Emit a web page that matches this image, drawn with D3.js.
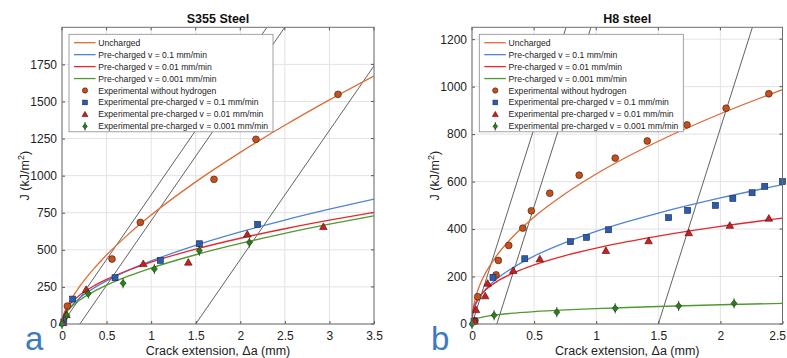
<!DOCTYPE html>
<html><head><meta charset="utf-8">
<script src="https://cdn.jsdelivr.net/npm/d3@7"></script>
<style>body{margin:0;background:#fff}svg{display:block}text{font-family:"Liberation Sans",Arial,sans-serif}</style>
</head><body><svg id="c" width="787" height="358"></svg>
<script>
// ---------- Panel a : S355 Steel ----------
const aTitle = "S355 Steel";
const aTicksX = [0, 0.5, 1, 1.5, 2, 2.5, 3, 3.5];
const aTicksY = [0, 250, 500, 750, 1000, 1250, 1500, 1750];
const aDomainX = [0, 3.5];
const aDomainY = [0, 2000];
const aCurveX   = [0, 0.005, 0.02, 0.05, 0.1, 0.2, 0.35, 0.5, 0.75, 1, 1.5, 2, 2.5, 3, 3.5];
const aFitUnch  = [0, 22.6, 56, 102.6, 161.7, 255, 368, 465.5, 607.6, 734, 958, 1157, 1340, 1511, 1672];
const aFit01    = [0, 23.6, 50.2, 82.8, 120.9, 176.5, 239.6, 291, 363, 425, 530, 620.5, 701, 774, 842];
const aFit001   = [0, 34.4, 66, 101.7, 141, 195.4, 254.3, 300.8, 364, 417, 504.7, 578, 642, 699.6, 752];
const aFit0001  = [0, 23.1, 48, 77.7, 112, 161.4, 216.8, 261.6, 324, 377, 466.8, 543, 611, 672.6, 729.6];
const aExpUnchX = [0.06, 0.561, 0.879, 1.705, 2.176, 3.096];
const aExpUnchY = [121, 438, 685, 975, 1245, 1548];
const aExp01X   = [0.02, 0.12, 0.595, 1.103, 1.541, 2.195];
const aExp01Y   = [15, 168, 312, 429, 541, 672];
const aExp001X  = [0.01, 0.05, 0.27, 0.912, 1.417, 2.079, 2.932];
const aExp001Y  = [8, 62, 232, 406, 416, 605, 656];
const aExp0001X = [0, 0.053, 0.295, 0.685, 1.036, 1.541, 2.102];
const aExp0001Y = [0, 59, 205, 275, 371, 494, 550];
const aBluntOffsets = [0, 0.2, 1.5];
const aBluntSlope = 870;

// ---------- Panel b : H8 steel ----------
const bTitle = "H8 steel";
const bTicksX = [0, 0.5, 1, 1.5, 2, 2.5];
const bTicksY = [0, 200, 400, 600, 800, 1000, 1200];
const bDomainX = [0, 2.5];
const bDomainY = [0, 1250];
const bCurveX   = [0, 0.005, 0.01, 0.03, 0.06, 0.1, 0.2, 0.35, 0.5, 0.75, 1, 1.25, 1.5, 2, 2.5];
const bFitUnch  = [0, 48, 67, 114.6, 160.6, 206, 288.6, 379, 451, 549, 632, 704.5, 770, 885.7, 987.4];
const bFit01    = [0, 37, 50, 81.6, 111.2, 139.7, 190.2, 244, 286.3, 343, 390, 430.8, 467.3, 531, 587];
const bFit001   = [0, 47, 60.4, 90, 115.6, 139, 178.7, 218.9, 249, 288.4, 320, 347, 370.6, 411.3, 445.9];
const bFit0001  = [0, 12, 14.7, 21, 26.2, 30.9, 38.6, 46.2, 51.9, 59.1, 64.8, 69.6, 73.8, 81, 87];
const bExpUnchX = [0.024, 0.046, 0.194, 0.212, 0.296, 0.409, 0.478, 0.626, 0.863, 1.153, 1.411, 1.731, 2.046, 2.39];
const bExpUnchY = [14, 115, 207, 268, 331, 404, 477, 551, 627, 699, 771, 839, 909, 970];
const bExp01X   = [0.016, 0.169, 0.425, 0.793, 0.922, 1.099, 1.583, 1.736, 1.96, 2.1, 2.255, 2.357, 2.5];
const bExp01Y   = [12, 196, 275, 347, 365, 397, 448, 479, 500, 529, 553, 580, 600];
const bExp001X  = [0.02, 0.032, 0.106, 0.126, 0.332, 0.546, 1.078, 1.422, 1.745, 2.076, 2.39];
const bExp001Y  = [12, 60, 118, 171, 225, 274, 309, 350, 384, 415, 445];
const bExp0001X = [0, 0.178, 0.683, 1.153, 1.664, 2.11];
const bExp0001Y = [0, 37, 50, 66, 76, 87];
const bBluntOffsets = [0, 0.2, 1.5];
const bBluntSlope = 1650;

const legendLabels = ["Uncharged", "Pre-charged v = 0.1 mm/min", "Pre-charged v = 0.01 mm/min",
  "Pre-charged v = 0.001 mm/min", "Experimental without hydrogen",
  "Experimental pre-charged v = 0.1 mm/min", "Experimental pre-charged v = 0.01 mm/min",
  "Experimental pre-charged v = 0.001 mm/min"];
const xLabel = "Crack extension, \u0394a (mm)";

const lineColors = ["#de6b36", "#4f84d6", "#e4282c", "#4f9a30"];
const markFill   = ["#c5501d", "#2d5cae", "#cc1e1e", "#2f7c1f"];
const markStroke = ["#3b1a0c", "#15284f", "#4a0c0c", "#113808"];
const markTypes  = ["circle", "square", "triangle", "diamond"];

const svg = d3.select("#c");
const W = 787;

function marker(g, type, cx, cy, i, s) {
  s = s || 1;
  if (type === "circle") {
    g.append("circle").attr("cx", cx).attr("cy", cy).attr("r", 3.4 * s)
      .attr("fill", markFill[i]).attr("stroke", markStroke[i]).attr("stroke-width", 0.6);
  } else if (type === "square") {
    const h = 3 * s;
    g.append("rect").attr("x", cx - h).attr("y", cy - h).attr("width", 2 * h).attr("height", 2 * h)
      .attr("fill", markFill[i]).attr("stroke", markStroke[i]).attr("stroke-width", 0.6);
  } else if (type === "triangle") {
    const h = 3.8 * s;
    g.append("path").attr("d", `M${cx},${cy - h}L${cx + h},${cy + h * 0.75}L${cx - h},${cy + h * 0.75}Z`)
      .attr("fill", markFill[i]).attr("stroke", markStroke[i]).attr("stroke-width", 0.6);
  } else {
    const w = 3 * s, h = 3.6 * s;
    g.append("line").attr("x1", cx).attr("x2", cx).attr("y1", cy - h - 1.5).attr("y2", cy + h + 1.5)
      .attr("stroke", markStroke[i]).attr("stroke-width", 0.8);
    g.append("path").attr("d", `M${cx},${cy - h}L${cx + w},${cy}L${cx},${cy + h}L${cx - w},${cy}Z`)
      .attr("fill", markFill[i]).attr("stroke", markStroke[i]).attr("stroke-width", 0.6);
  }
}

function panel(p) {
  const g = svg.append("g");
  const x = d3.scaleLinear().domain(p.domX).range([p.x0, p.x1]);
  const y = d3.scaleLinear().domain(p.domY).range([p.yb, p.yt]);
  const id = "clip" + p.key;
  svg.append("clipPath").attr("id", id).append("rect")
    .attr("x", p.x0).attr("y", p.yt).attr("width", p.x1 - p.x0).attr("height", p.yb - p.yt);

  // grid
  g.append("g").selectAll("line").data(p.ticksX).join("line")
    .attr("x1", d => x(d)).attr("x2", d => x(d)).attr("y1", p.yt).attr("y2", p.yb)
    .attr("stroke", "#e3e3e3").attr("stroke-width", 1);
  g.append("g").selectAll("line").data(p.ticksY).join("line")
    .attr("y1", d => y(d)).attr("y2", d => y(d)).attr("x1", p.x0).attr("x2", p.x1)
    .attr("stroke", "#e3e3e3").attr("stroke-width", 1);

  // axes (inside ticks, MATLAB style)
  const ax = g.append("g").attr("transform", `translate(0,${p.yb})`)
    .call(d3.axisBottom(x).tickValues(p.ticksX).tickFormat(d3.format("~g")).tickSizeInner(-3).tickSizeOuter(0).tickPadding(7));
  const ay = g.append("g").attr("transform", `translate(${p.x0},0)`)
    .call(d3.axisLeft(y).tickValues(p.ticksY).tickFormat(d3.format("d")).tickSizeInner(-3).tickSizeOuter(0).tickPadding(5));
  [ax, ay].forEach(a => {
    a.select(".domain").remove();
    a.selectAll("line").attr("stroke", "#555");
    a.selectAll("text").attr("fill", "#222").attr("font-size", 12).attr("font-family", "Liberation Sans, Arial, sans-serif");
  });
  // keep tick labels inside the picture
  ax.selectAll(".tick text").each(function () {
    const t = d3.select(this), tick = this.parentNode;
    const tx = +tick.getAttribute("transform").match(/translate\(([-\d.]+)/)[1];
    const w = this.getComputedTextLength();
    if (tx + w / 2 > W - 1) t.attr("text-anchor", "end").attr("x", W - 1 - tx);
  });
  // top / right ticks
  g.append("g").selectAll("line").data(p.ticksX).join("line")
    .attr("x1", d => x(d)).attr("x2", d => x(d)).attr("y1", p.yt).attr("y2", p.yt + 3).attr("stroke", "#555");
  g.append("g").selectAll("line").data(p.ticksY).join("line")
    .attr("y1", d => y(d)).attr("y2", d => y(d)).attr("x1", p.x1).attr("x2", p.x1 - 3).attr("stroke", "#555");

  const pl = g.append("g").attr("clip-path", `url(#${id})`);
  // blunting lines
  pl.selectAll("line.bl").data(p.blunt).join("line").attr("class", "bl")
    .attr("x1", d => x(d)).attr("y1", y(0))
    .attr("x2", d => x(d + p.domY[1] / p.slope)).attr("y2", y(p.domY[1]))
    .attr("stroke", "#505050").attr("stroke-width", 0.9);

  // fitted curves
  const line = d3.line().x(d => x(d[0])).y(d => y(d[1])).curve(d3.curveMonotoneX);
  p.fits.forEach((f, i) => {
    pl.append("path").datum(p.curveX.map((v, k) => [v, f[k]]))
      .attr("d", line).attr("fill", "none").attr("stroke", lineColors[i]).attr("stroke-width", 1.3);
  });

  // experimental points
  const mg = g.append("g");
  p.exps.forEach((e, i) => {
    e[0].forEach((xv, k) => marker(mg, markTypes[i], x(xv), y(e[1][k]), i));
  });

  // box
  g.append("rect").attr("x", p.x0).attr("y", p.yt).attr("width", p.x1 - p.x0).attr("height", p.yb - p.yt)
    .attr("fill", "none").attr("stroke", "#6e6e6e").attr("stroke-width", 1);

  // title
  g.append("text").attr("x", (p.x0 + p.x1) / 2).attr("y", 23).attr("text-anchor", "middle")
    .attr("font-size", 12.5).attr("font-weight", "bold").attr("fill", "#111").text(p.title);
  // x label
  g.append("text").attr("x", (p.x0 + p.x1) / 2).attr("y", 355).attr("text-anchor", "middle")
    .attr("font-size", 12.5).attr("fill", "#222").text(xLabel);
  // y label
  const yl = g.append("text").attr("transform", `translate(${p.ylx},${(p.yt + p.yb) / 2}) rotate(-90)`)
    .attr("text-anchor", "middle").attr("font-size", 12.5).attr("fill", "#222");
  yl.append("tspan").text("J (kJ/m");
  yl.append("tspan").attr("dy", -5).attr("font-size", 9).text("2");
  yl.append("tspan").attr("dy", 5).text(")");

  // legend
  const lg = g.append("g");
  lg.append("rect").attr("x", p.lx).attr("y", p.ly).attr("width", 204).attr("height", 97.5)
    .attr("fill", "#fff").attr("stroke", "#8a8a8a").attr("stroke-width", 0.8);
  legendLabels.forEach((t, i) => {
    const cy = p.ly + 8.4 + i * 11.95;
    if (i < 4) {
      lg.append("line").attr("x1", p.lx + 5).attr("x2", p.lx + 26.5).attr("y1", cy).attr("y2", cy)
        .attr("stroke", lineColors[i]).attr("stroke-width", 1.3);
    } else {
      marker(lg, markTypes[i - 4], p.lx + 16, cy, i - 4, 0.78);
    }
    lg.append("text").attr("x", p.lx + 29.3).attr("y", cy + 3).attr("font-size", 8.6)
      .attr("fill", "#222").text(t);
  });

  // panel letter
  svg.append("text").attr("x", p.letterX).attr("y", 350).attr("font-size", 33)
    .attr("font-family", "Liberation Serif, DejaVu Serif, serif").attr("fill", "#3b7cc0").text(p.letter);
}

panel({key: "a", title: aTitle, x0: 62, x1: 374, yt: 27.3, yb: 324, domX: aDomainX, domY: aDomainY,
  ticksX: aTicksX, ticksY: aTicksY, curveX: aCurveX, fits: [aFitUnch, aFit01, aFit001, aFit0001],
  exps: [[aExpUnchX, aExpUnchY], [aExp01X, aExp01Y], [aExp001X, aExp001Y], [aExp0001X, aExp0001Y]],
  blunt: aBluntOffsets, slope: aBluntSlope, ylx: 29, lx: 69, ly: 34.3, letter: "a", letterX: 25});
panel({key: "b", title: bTitle, x0: 472, x1: 782.5, yt: 27.3, yb: 324, domX: bDomainX, domY: bDomainY,
  ticksX: bTicksX, ticksY: bTicksY, curveX: bCurveX, fits: [bFitUnch, bFit01, bFit001, bFit0001],
  exps: [[bExpUnchX, bExpUnchY], [bExp01X, bExp01Y], [bExp001X, bExp001Y], [bExp0001X, bExp0001Y]],
  blunt: bBluntOffsets, slope: bBluntSlope, ylx: 439, lx: 479.3, ly: 34.3, letter: "b", letterX: 431});
</script></body></html>
